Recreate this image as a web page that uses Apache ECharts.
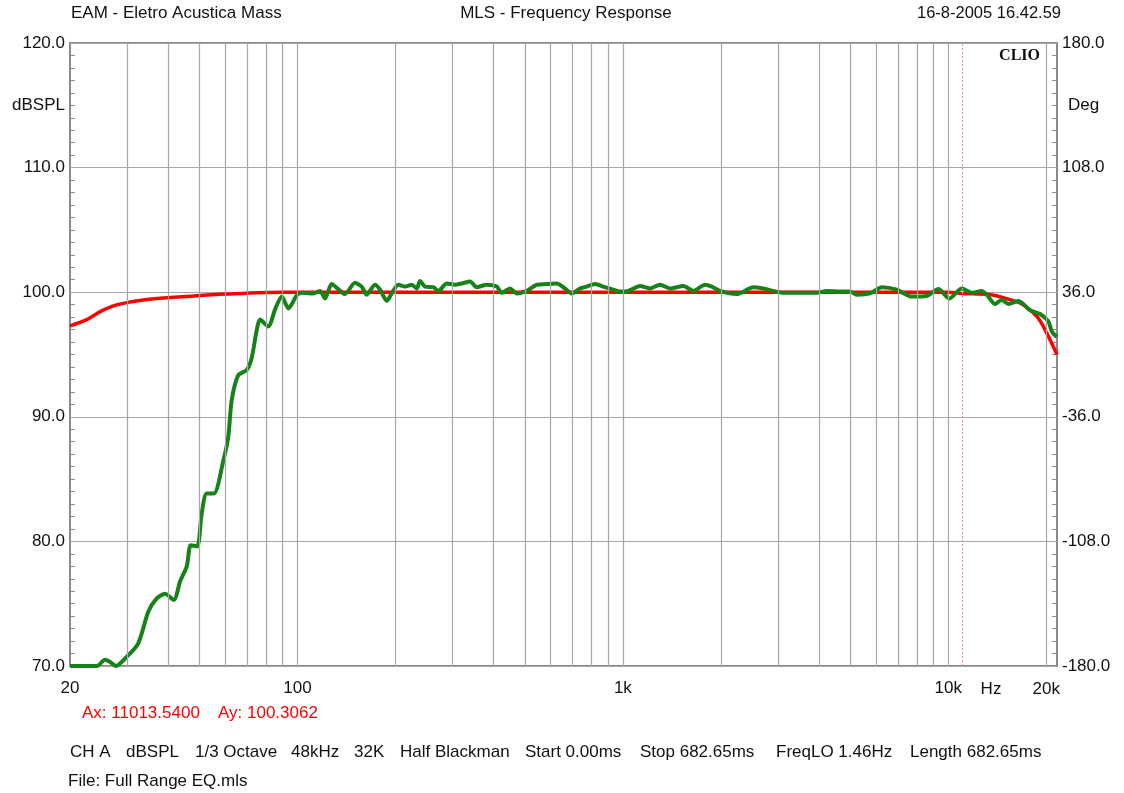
<!DOCTYPE html>
<html>
<head>
<meta charset="utf-8">
<script src="https://cdn.jsdelivr.net/npm/echarts@6/dist/echarts.min.js"></script>
<style>
html, body { margin: 0; padding: 0; background: #fff; }
#main { width: 1124px; height: 793px; }
</style>
</head>
<body>
<div id="main"></div>
<script>
// 目标曲线 (red)
var freqRed = [20, 22.5, 25, 28, 34, 48, 60, 90, 1000, 10000, 11000, 13500, 15500, 17000, 18800, 20000, 21580];
var splRed  = [97.3, 97.8, 98.5, 99.0, 99.4, 99.7, 99.85, 100, 100, 100, 99.9, 99.8, 99.4, 99.0, 98.0, 96.8, 95.0];

// 实测曲线 (green)
var freqGreen = [20, 24.2, 25.6, 26.5, 27.7, 29.9, 32.4, 34.8, 36.9, 39.2, 41.7, 43.6, 45.7, 47.0, 49.2,
	50.8, 52.6, 55.4, 59.2, 61.3, 62.8, 65.8, 69.8, 72.3, 75.0, 76.7, 81.4, 85.3, 89.5, 93.8, 99.9,
	104.2, 111.9, 117.3, 121.6, 127.4, 133.5, 140, 150.2, 157.5, 163.2, 173.1, 179.4, 188.1, 194.8,
	204.2, 214, 224.4, 232.6, 238, 246.6, 261.6, 271, 287.6, 305, 319.7, 339.2, 355.6, 381.6, 409.6,
	424.4, 450, 472, 506.4, 543.8, 583.4, 626.2, 664, 696.2, 738.4, 774.2, 821.2, 870.8, 934.4, 979.6,
	1039, 1129, 1212, 1300, 1396, 1534, 1646, 1788, 1875, 1989, 2238, 2518, 2702, 2900, 3112, 3502,
	3942, 4230, 4758, 4990, 5232, 5748, 6244, 6944, 7722, 8584, 9322, 10076, 11000, 11804, 12672,
	13128, 13924, 14596, 15294, 16420, 17836, 19144, 20300, 20800, 21580];
var splGreen = [70.0, 70.0, 70.5, 70.35, 70.0, 70.75, 71.8, 74.35, 75.4, 75.8, 75.3, 76.8, 78.0, 79.7, 79.6,
	82.25, 83.85, 83.85, 86.5, 88.4, 91.35, 93.35, 93.75, 94.7, 97.0, 97.8, 97.25, 98.6, 99.65, 98.7, 99.8,
	99.95, 99.9, 100.1, 99.5, 100.65, 100.25, 99.85, 100.75, 100.45, 99.8, 100.6, 100.2, 99.3, 99.9,
	100.6, 100.45, 100.6, 100.3, 100.9, 100.45, 100.4, 100.1, 100.7, 100.6, 100.7, 100.85, 100.4, 100.6, 100.45,
	99.95, 100.3, 99.9, 100.1, 100.6, 100.65, 100.7, 100.3, 99.9, 100.3, 100.45, 100.65, 100.45, 100.2, 100.05,
	100.1, 100.5, 100.3, 100.6, 100.3, 100.5, 100.1, 100.6, 100.45, 100.1, 99.85, 100.4, 100.3, 100.1, 99.95, 99.95,
	99.95, 100.1, 100.05, 100.05, 99.8, 99.9, 100.4, 100.2, 99.65, 99.7, 100.25, 99.5, 100.3, 99.95, 100.1,
	99.8, 99.05, 99.4, 99.05, 99.3, 98.55, 98.25, 97.65, 96.85, 96.4];

// 竖向网格线频率
var gridFreqs = [30, 40, 50, 60, 70, 80, 90, 100, 200, 300, 400, 500, 600, 700, 800, 900,
	1000, 2000, 3000, 4000, 5000, 6000, 7000, 8000, 9000, 10000, 20000];
var xTickLabels = { 20: '20', 100: '100', 1000: '1k', 10000: '10k', 20000: '20k' };

// 底部参数栏
var infoItems = ['CH A', 'dBSPL', '1/3 Octave', '48kHz', '32K', 'Half Blackman',
	'Start 0.00ms', 'Stop 682.65ms', 'FreqLO 1.46Hz', 'Length 682.65ms'];
var infoX = [70, 126, 195, 291, 354, 400, 525, 640, 776, 910];

var cursorFreq = 11013.54, cursorSpl = 100.3062;

var font = 'Liberation Sans, Arial, sans-serif';
var fsize = 17;
var txtColor = '#111';
var gridColor = '#a6a6a6';
var frameColor = '#8a8a8a';

function pairs(xs, ys){
	var out = [];
	for(var i=0;i<xs.length;i++){
		out.push([xs[i], ys[i]]);
	}
	return out;
}

var myChart = echarts.init(document.getElementById('main'));

function txt(x, y, text, align, extra){
	var st = {
		text: text,
		font: fsize + 'px ' + font,
		fill: txtColor,
		align: align || 'left',
		verticalAlign: 'middle'
	};
	for(var k in extra){ st[k] = extra[k]; }
	return { type: 'text', x: x, y: y, silent: true, style: st };
}

var graphics = [
	txt(71, 13, 'EAM - Eletro Acustica Mass', 'left'),
	txt(566, 13, 'MLS - Frequency Response', 'center'),
	txt(1061, 13, '16-8-2005 16.42.59', 'right', { font: '16.5px ' + font }),
	txt(65, 105, 'dBSPL', 'right'),
	txt(1068, 105, 'Deg', 'left'),
	txt(991, 689, 'Hz', 'center'),
	txt(82, 713, 'Ax: ' + cursorFreq.toFixed(4), 'left', { fill: '#ff0000' }),
	txt(218, 713, 'Ay: ' + cursorSpl.toFixed(4), 'left', { fill: '#ff0000' }),
	txt(68, 781, 'File: Full Range EQ.mls', 'left'),
	txt(1040, 56, 'CLIO', 'right', { font: 'bold 16px Liberation Serif, DejaVu Serif, serif' })
];
for(var i=0;i<infoItems.length;i++){
	graphics.push(txt(infoX[i], 752, infoItems[i], 'left'));
}

var option = {
	backgroundColor: '#fff',
	animation: false,
	grid: {
		left: 70,
		right: 67,
		top: 43,
		bottom: 127,
		show: true,
		borderColor: frameColor,
		borderWidth: 2,
		backgroundColor: 'transparent'
	},
	xAxis: {
		type: 'log',
		logBase: 10,
		min: 20,
		max: 21580,
		axisLine: { show: false },
		axisTick: { show: false },
		splitLine: { show: false },
		axisLabel: {
			fontFamily: font,
			fontSize: fsize,
			color: txtColor,
			margin: 14,
			formatter: function(v){
				var r = Math.round(v);
				return xTickLabels[r] !== undefined && r !== 20000 ? xTickLabels[r] : '';
			}
		}
	},
	yAxis: [{
		type: 'value',
		min: 70,
		max: 120,
		interval: 10,
		position: 'left',
		axisLine: { show: false },
		axisTick: { show: false, inside: true },
		minorTick: { show: true, splitNumber: 10, length: 5, lineStyle: { color: frameColor, width: 1 } },
		splitLine: { show: true, lineStyle: { color: gridColor, width: 1.2 } },
		axisLabel: {
			fontFamily: font,
			fontSize: fsize,
			color: txtColor,
			margin: 5,
			formatter: function(v){ return v.toFixed(1); }
		}
	}, {
		type: 'value',
		min: 0,
		max: 360,
		interval: 72,
		position: 'right',
		axisLine: { show: false },
		axisTick: { show: false, inside: true },
		minorTick: { show: true, splitNumber: 10, length: 5, lineStyle: { color: frameColor, width: 1 } },
		splitLine: { show: false },
		axisLabel: {
			fontFamily: font,
			fontSize: fsize,
			color: txtColor,
			margin: 5,
			formatter: function(v){ return (v - 180).toFixed(1); }
		}
	}],
	series: [
		{
			name: 'grid',
			type: 'line',
			z: 1,
			silent: true,
			data: [],
			markLine: {
				silent: true,
				symbol: 'none',
				animation: false,
				label: { show: false },
				lineStyle: { color: gridColor, width: 1.2, type: 'solid' },
				data: gridFreqs.map(function(f){ return { xAxis: f }; })
			}
		},
		{
			name: 'cursor',
			type: 'line',
			z: 2,
			silent: true,
			data: [],
			markLine: {
				silent: true,
				symbol: 'none',
				animation: false,
				label: { show: false },
				lineStyle: { color: '#ff8c8c', width: 1, type: [2, 2] },
				data: [{ xAxis: cursorFreq }]
			}
		},
		{
			name: 'target',
			type: 'line',
			z: 3,
			showSymbol: false,
			smooth: 0.3,
			lineStyle: { color: '#ff0000', width: 3.5 },
			data: pairs(freqRed, splRed)
		},
		{
			name: 'response',
			type: 'line',
			z: 4,
			showSymbol: false,
			smooth: 0.25,
			lineStyle: { color: '#178217', width: 4 },
			data: pairs(freqGreen, splGreen)
		}
	],
	graphic: graphics
};

myChart.setOption(option);

// 20k 标签位置由坐标轴换算
var x20k = myChart.convertToPixel({ xAxisIndex: 0 }, 20000);
graphics.push(txt(x20k, 689, xTickLabels[20000], 'center'));
myChart.setOption({ graphic: graphics });
</script>
</body>
</html>
